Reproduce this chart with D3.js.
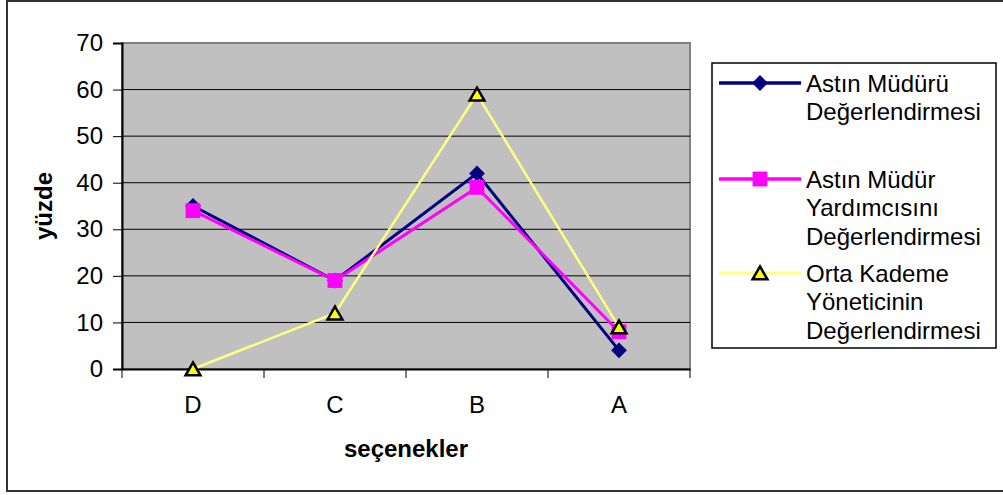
<!DOCTYPE html>
<html><head><meta charset="utf-8">
<script src="https://cdn.jsdelivr.net/npm/d3@7"></script>
<style>body{margin:0;background:#fff}svg{display:block;font-family:"Liberation Sans",Arial,sans-serif}</style>
</head><body>
<svg id="c" width="1003" height="495"></svg>
<script>
const categories = ["D","C","B","A"];
const yTicks = [0,10,20,30,40,50,60,70];
const seriesNames = [["Astın Müdürü","Değerlendirmesi"],["Astın Müdür","Yardımcısını","Değerlendirmesi"],["Orta Kademe","Yöneticinin","Değerlendirmesi"]];
const s1 = [35,19,42,4];
const s2 = [34,19,39,8];
const s3 = [0,12,59,9];

const svg = d3.select("#c");
const m = {l:122,t:43,r:690,b:369};
const x = d3.scaleBand().domain(categories).range([m.l,m.r]);
const y = d3.scaleLinear().domain([0,70]).range([m.b,m.t]);
const FONT = "Liberation Sans, Arial, sans-serif";

// outer border
svg.append("rect").attr("x",7).attr("y",1).attr("width",1000).attr("height",490).attr("fill","#fff").attr("stroke","#333").attr("stroke-width",2);

// plot area
svg.append("rect").attr("x",m.l).attr("y",m.t).attr("width",m.r-m.l).attr("height",m.b-m.t).attr("fill","#c0c0c0").attr("stroke","#808080").attr("stroke-width",2);

// gridlines
svg.append("g").selectAll("line").data(yTicks.filter(d=>d>0 && d<70)).join("line")
  .attr("x1",m.l).attr("x2",m.r).attr("y1",d=>y(d)).attr("y2",d=>y(d)).attr("stroke","#000").attr("stroke-width",1);

// y axis
const ya = svg.append("g").attr("transform",`translate(${m.l},0)`).call(d3.axisLeft(y).tickValues(yTicks).tickSize(9).tickPadding(10));
ya.select(".domain").attr("stroke","#000").attr("stroke-width",2);
ya.selectAll(".tick line").attr("stroke","#000");
ya.selectAll("text").attr("font-size",24).attr("fill","#000").attr("font-family",FONT);

// x axis
const xa = svg.append("g").attr("transform",`translate(0,${m.b})`).call(d3.axisBottom(x).tickSize(0).tickPadding(27));
xa.select(".domain").attr("stroke","#000").attr("stroke-width",2);
xa.selectAll("text").attr("font-size",24).attr("fill","#000").attr("font-family",FONT);
const bounds = categories.map(c=>x(c)).concat([m.r]);
svg.append("g").selectAll("line").data(bounds).join("line")
  .attr("x1",d=>d).attr("x2",d=>d).attr("y1",m.b).attr("y2",m.b+9).attr("stroke","#000");

// axis titles
svg.append("text").attr("transform",`translate(52,${(m.t+m.b)/2}) rotate(-90)`).attr("text-anchor","middle")
  .attr("font-size",24).attr("font-weight","bold").text("yüzde");
svg.append("text").attr("x",(m.l+m.r)/2).attr("y",457).attr("text-anchor","middle")
  .attr("font-size",24).attr("font-weight","bold").text("seçenekler");

const cx = c=>x(c)+x.bandwidth()/2;
const series = [
  {vals:s1,color:"#000080",w:3,sym:d3.symbolSquare,rot:45,dy:0,size:125,fill:"#000080",stroke:"none"},
  {vals:s2,color:"#ff00ff",w:3,sym:d3.symbolSquare,rot:0,dy:0,size:220,fill:"#ff00ff",stroke:"none"},
  {vals:s3,color:"#ffff80",w:2.5,sym:d3.symbolTriangle,rot:0,dy:2,size:95,fill:"#ffff00",stroke:"#000"}
];
const line = d3.line().x((d,i)=>cx(categories[i])).y(d=>y(d));
series.forEach(s=>{
  svg.append("path").datum(s.vals).attr("d",line).attr("fill","none").attr("stroke",s.color).attr("stroke-width",s.w);
});
series.forEach(s=>{
  svg.append("g").selectAll("path").data(s.vals).join("path")
    .attr("transform",(d,i)=>`translate(${cx(categories[i])},${y(d)+s.dy}) rotate(${s.rot})`)
    .attr("d",d3.symbol(s.sym,s.size)).attr("fill",s.fill).attr("stroke",s.stroke).attr("stroke-width",2.5);
});

// legend
const lg = svg.append("g");
lg.append("rect").attr("x",712).attr("y",63).attr("width",284).attr("height",285).attr("fill","#fff").attr("stroke","#000").attr("stroke-width",1.5);
const rowsY = [83,179,273];
series.forEach((s,i)=>{
  const yy = rowsY[i];
  lg.append("line").attr("x1",719).attr("x2",801).attr("y1",yy).attr("y2",yy).attr("stroke",s.color).attr("stroke-width",s.w+0.5);
  lg.append("path").attr("transform",`translate(760,${yy+s.dy}) rotate(${s.rot})`).attr("d",d3.symbol(s.sym,s.size)).attr("fill",s.fill).attr("stroke",s.stroke).attr("stroke-width",2.5);
  seriesNames[i].forEach((t,j)=>{
    lg.append("text").attr("x",806).attr("y",yy+8.5+j*28.5).attr("font-size",24).attr("fill","#000").text(t);
  });
});
</script>
</body></html>
